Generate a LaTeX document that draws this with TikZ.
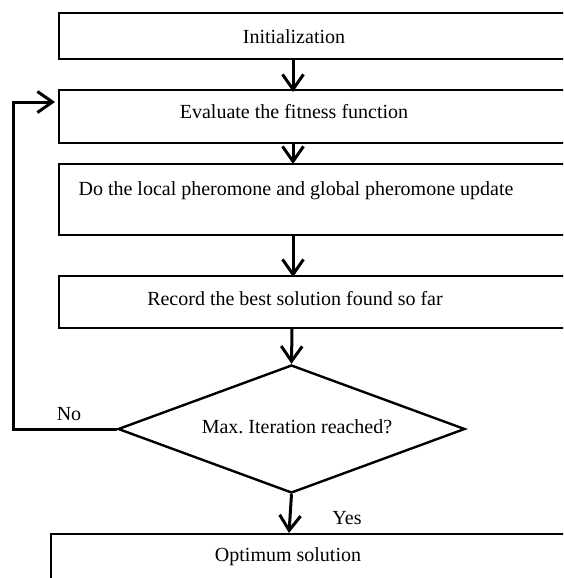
\documentclass[tikz,border=0pt]{standalone}
\usepackage{fontspec}
\setmainfont{Liberation Serif}
\usetikzlibrary{arrows.meta,shapes.geometric}
\begin{document}
\begin{tikzpicture}[x=1pt,y=-1pt,
  box/.style={draw, line width=1.9pt, rectangle, anchor=north west, inner sep=0pt, minimum width=560pt},
  txt/.style={font=\fontsize{20}{24}\selectfont, inner sep=0pt},
  dec/.style={draw, line width=2.4pt, diamond, inner sep=0pt, minimum width=347pt, minimum height=128pt},
  arr/.style={line width=3pt, -{Straight Barb[length=15pt,width=21pt,line width=3pt]}},
  loop/.style={line width=3pt, line join=miter}]
\useasboundingbox (0,0) rectangle (563,578);
\clip (0,0) rectangle (563,578);

% process boxes
\node[box, minimum height=46pt] (b1) at (58,12) {};
\node[box, minimum height=53pt] (b2) at (58,89) {};
\node[box, minimum height=71pt] (b3) at (58,163) {};
\node[box, minimum height=52pt] (b4) at (58,275) {};
\node[box, minimum height=80pt] (b5) at (50,533) {};

% box captions
\node[txt] (t1) at (294,37) {Initialization};
\node[txt] (t2) at (294,112) {Evaluate the fitness function};
\node[txt] (t3) at (296,191) {Do the local pheromone and global pheromone update};
\node[txt] (t4) at (295,299) {Record the best solution found so far};
\node[txt] (t5) at (288,557) {Optimum solution};

% decision
\node[dec] (d) at (291.5,429) {};
\node[txt] (dt) at (297,427) {Max.\ Iteration reached?};

% branch labels
\node[txt] (no) at (69,414) {No};
\node[txt] (yes) at (347,518) {Yes};

% flow connectors
\draw[arr] (b1.south -| 293,0) -- ([yshift=-3pt]b2.north -| 293,0);
\draw[arr] (b2.south -| 293,0) -- ([yshift=-1pt]b3.north -| 293,0);
\draw[arr] (b3.south -| 293,0) -- ([yshift=-2pt]b4.north -| 293,0);
\draw[arr] (b4.south -| 292,0) -- (d.north);
\draw[arr] (d.south) -- (b5.north -| 289,0);

% return loop
\coordinate (c1) at (13,429);
\coordinate (c2) at (13,102);
\draw[loop] (d.west) -- (c1) -- (c2) -- (c2 -| 40,0);
\draw[arr] (c2 -| 12,0) -- ([xshift=-3pt]b2.west |- c2);
\end{tikzpicture}
\end{document}
